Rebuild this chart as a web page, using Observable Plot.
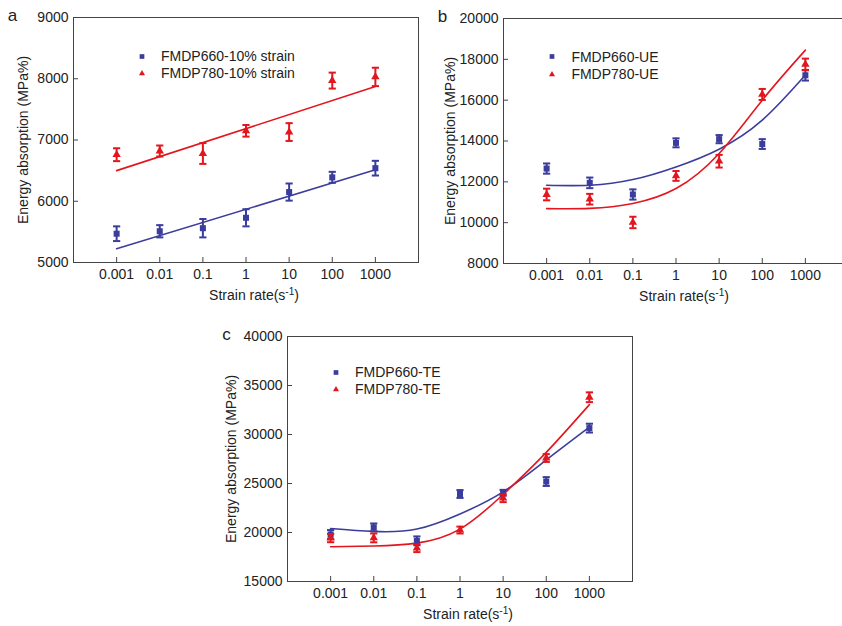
<!DOCTYPE html>
<html>
<head>
<meta charset="utf-8">
<script src="https://cdn.jsdelivr.net/npm/d3@7"></script>
<script src="https://cdn.jsdelivr.net/npm/@observablehq/plot@0.6"></script>
<style>
html, body { margin: 0; padding: 0; background: #fff; overflow: hidden; width: 842px; height: 626px; }
#root { position: relative; width: 842px; height: 626px; overflow: hidden; font-family: "Liberation Sans", Arial, sans-serif; }
.panel { position: absolute; width: 430px; height: 305px; }
.legend { position: absolute; font-size: 14px; color: #222; font-family: "Liberation Sans", Arial, sans-serif; }
.legend .row { display: flex; align-items: center; white-space: nowrap; }
.legend svg { width: 12px; height: 17px; margin-right: 13px; overflow: visible; }
</style>
</head>
<body>
<div id="root"></div>
<script>
// ---------- data ----------
const rates = [0.001, 0.01, 0.1, 1, 10, 100, 1000];
const rateLabels = ["0.001", "0.01", "0.1", "1", "10", "100", "1000"];
const xTitle = "Strain rate(s⁻¹)";
const yTitle = "Energy absorption (MPa%)";

// panel a (10% strain)
const aNames = ["FMDP660-10% strain", "FMDP780-10% strain"];
const aYTicks = [5000, 6000, 7000, 8000, 9000];
const a660 = [5470, 5510, 5560, 5730, 6150, 6390, 6540];
const a660Err = [120, 100, 150, 140, 140, 90, 120];
const a780 = [6760, 6820, 6780, 7150, 7130, 7970, 8030];
const a780Err = [105, 90, 170, 95, 145, 130, 150];
const aFitRates = [0.001, 1000];
const aFit660 = [5225, 6513];
const aFit780 = [6500, 7873];

// panel b (UE)
const bNames = ["FMDP660-UE", "FMDP780-UE"];
const bYTicks = [8000, 10000, 12000, 14000, 16000, 18000, 20000];
const b660 = [12650, 11950, 11380, 13910, 14090, 13850, 17220];
const b660Err = [250, 260, 250, 220, 200, 240, 260];
const b780 = [11380, 11150, 10010, 12290, 13010, 16280, 17750];
const b780Err = [285, 260, 280, 240, 310, 270, 285];
const bFitRates = [0.001, 0.01, 0.1, 1, 10, 100, 1000];
const bFit660 = [11830, 11830, 12110, 12730, 13600, 15020, 17230];
const bFit780 = [10690, 10700, 10940, 11670, 13390, 16000, 18450];

// panel c (TE)
const cNames = ["FMDP660-TE", "FMDP780-TE"];
const cYTicks = [15000, 20000, 25000, 30000, 35000, 40000];
const c660 = [19800, 20520, 19150, 23930, 24050, 25200, 30650];
const c660Err = [450, 400, 450, 400, 300, 450, 450];
const c780 = [19430, 19450, 18400, 20250, 23500, 27600, 33800];
const c780Err = [420, 450, 400, 350, 400, 400, 500];
const cFitRates = [0.001, 0.01, 0.1, 1, 10, 100, 1000];
const cFit660 = [20415, 20110, 20350, 21890, 24150, 27400, 30750];
const cFit780 = [18545, 18620, 18920, 20350, 23880, 28180, 33050];

// ---------- style / layout ----------
const BLUE = "#3b3d9c";
const RED = "#e3161e";
const INK = "#222";
const FONT = "'Liberation Sans', Arial, sans-serif";

const panels = [
  {id: "a", left: -2, top: 2, yDomain: [5000, 9000], yTicks: aYTicks, names: aNames,
   s660: a660, e660: a660Err, s780: a780, e780: a780Err, fitRates: aFitRates, f660: aFit660, f780: aFit780,
   titleDx: -50, legend: {left: 138, top: 45.5, rowH: 17}},
  {id: "b", left: 428, top: 3.3, yDomain: [8000, 20000], yTicks: bYTicks, names: bNames,
   s660: b660, e660: b660Err, s780: b780, e780: b780Err, fitRates: bFitRates, f660: bFit660, f780: bFit780,
   titleDx: -53, legend: {left: 118.4, top: 45, rowH: 17.3}},
  {id: "c", left: 212.3, top: 321, yDomain: [15000, 40000], yTicks: cYTicks, names: cNames,
   s660: c660, e660: c660Err, s780: c780, e780: c780Err, fitRates: cFitRates, f660: cFit660, f780: cFit780,
   titleDx: -56, legend: {left: 117.7, top: 43.2, rowH: 16.6}}
];

const W = 430, H = 305, ML = 75, MR = 10, MT = 15, MB = 45;
const frameW = W - ML - MR, frameH = H - MT - MB;

// horizontal cap for error bars
const capSymbol = {
  draw(ctx, size) {
    const w = Math.sqrt(size / Math.PI);
    ctx.moveTo(-w, 0);
    ctx.lineTo(w, 0);
  }
};

function seriesMarks(data, color, symbol, r) {
  return [
    Plot.ruleX(data, {x: "rate", y1: d => d.v - d.e, y2: d => d.v + d.e, stroke: color, strokeWidth: 2}),
    Plot.dot(data, {x: "rate", y: d => d.v + d.e, symbol: capSymbol, r: 3.6, stroke: color, strokeWidth: 2, fill: "none"}),
    Plot.dot(data, {x: "rate", y: d => d.v - d.e, symbol: capSymbol, r: 3.6, stroke: color, strokeWidth: 2, fill: "none"}),
    Plot.dot(data, {x: "rate", y: "v", symbol, r, fill: color, stroke: "none"})
  ];
}

const root = document.getElementById("root");
const NS = "http://www.w3.org/2000/svg";

panels.forEach(p => {
  const d660 = rates.map((rate, i) => ({rate, v: p.s660[i], e: p.e660[i]}));
  const d780 = rates.map((rate, i) => ({rate, v: p.s780[i], e: p.e780[i]}));
  const fit660 = p.fitRates.map((rate, i) => ({rate, v: p.f660[i]}));
  const fit780 = p.fitRates.map((rate, i) => ({rate, v: p.f780[i]}));

  const chart = Plot.plot({
    width: W, height: H,
    marginLeft: ML, marginRight: MR, marginTop: MT, marginBottom: MB,
    style: {fontFamily: FONT, fontSize: "14px", color: INK, background: "transparent", overflow: "visible", maxWidth: "none"},
    x: {type: "log", domain: [1e-4, 1e4]},
    y: {domain: p.yDomain},
    marks: [
      Plot.frame({stroke: "#444", strokeWidth: 1}),
      Plot.tickX(rates, {x: d => d, insetTop: frameH - 5, stroke: "#444"}),
      Plot.tickY(p.yTicks, {y: d => d, insetRight: frameW - 5, stroke: "#444"}),
      Plot.axisX({ticks: rates, tickFormat: d => rateLabels[rates.indexOf(d)], tickSize: 0, tickPadding: 7, label: null, fill: INK}),
      Plot.axisY({ticks: p.yTicks, tickFormat: "d", tickSize: 0, tickPadding: 5, label: null, fill: INK}),
      Plot.line(fit660, {x: "rate", y: "v", stroke: BLUE, strokeWidth: 1.6, curve: "natural"}),
      Plot.line(fit780, {x: "rate", y: "v", stroke: RED, strokeWidth: 1.6, curve: "natural"}),
      ...seriesMarks(d660, BLUE, "square", 3.4),
      ...seriesMarks(d780, RED, "triangle", 3.1),
      Plot.text([p.id], {text: d => d, frameAnchor: "top-left", dx: -61, dy: -2, fontSize: 17, fill: INK, textAnchor: "middle", lineAnchor: "middle"}),
      Plot.text([xTitle], {text: d => d, frameAnchor: "bottom", dx: 8, dy: 33, fontSize: 14, fill: INK, textAnchor: "middle", lineAnchor: "middle"}),
      Plot.text([yTitle], {text: d => d, frameAnchor: "left", dx: p.titleDx, rotate: -90, fontSize: 14, fill: INK, textAnchor: "middle", lineAnchor: "middle"})
    ]
  });

  // superscript for s^-1
  chart.querySelectorAll("text").forEach(t => {
    if (t.textContent === xTitle) {
      t.textContent = "";
      const t1 = document.createElementNS(NS, "tspan");
      t1.textContent = "Strain rate(s";
      const t2 = document.createElementNS(NS, "tspan");
      t2.textContent = "-1";
      t2.setAttribute("font-size", "10");
      t2.setAttribute("dy", "-5");
      const t3 = document.createElementNS(NS, "tspan");
      t3.textContent = ")";
      t3.setAttribute("dy", "5");
      t.append(t1, t2, t3);
    }
  });

  const div = document.createElement("div");
  div.className = "panel";
  div.style.left = p.left + "px";
  div.style.top = p.top + "px";
  div.appendChild(chart);

  // legend
  const lg = document.createElement("div");
  lg.className = "legend";
  lg.style.left = p.legend.left + "px";
  lg.style.top = p.legend.top + "px";
  const items = [
    {name: p.names[0], color: BLUE, path: d3.symbol(d3.symbolSquare, 22)()},
    {name: p.names[1], color: RED, path: d3.symbol(d3.symbolTriangle, 16)()}
  ];
  items.forEach(it => {
    const row = document.createElement("div");
    row.className = "row";
    row.style.height = p.legend.rowH + "px";
    const s = document.createElementNS(NS, "svg");
    s.setAttribute("viewBox", "-6 -8.5 12 17");
    const path = document.createElementNS(NS, "path");
    path.setAttribute("d", it.path);
    path.setAttribute("fill", it.color);
    s.appendChild(path);
    const span = document.createElement("span");
    span.textContent = it.name;
    row.append(s, span);
    lg.appendChild(row);
  });
  div.appendChild(lg);
  root.appendChild(div);
});
</script>
</body>
</html>
